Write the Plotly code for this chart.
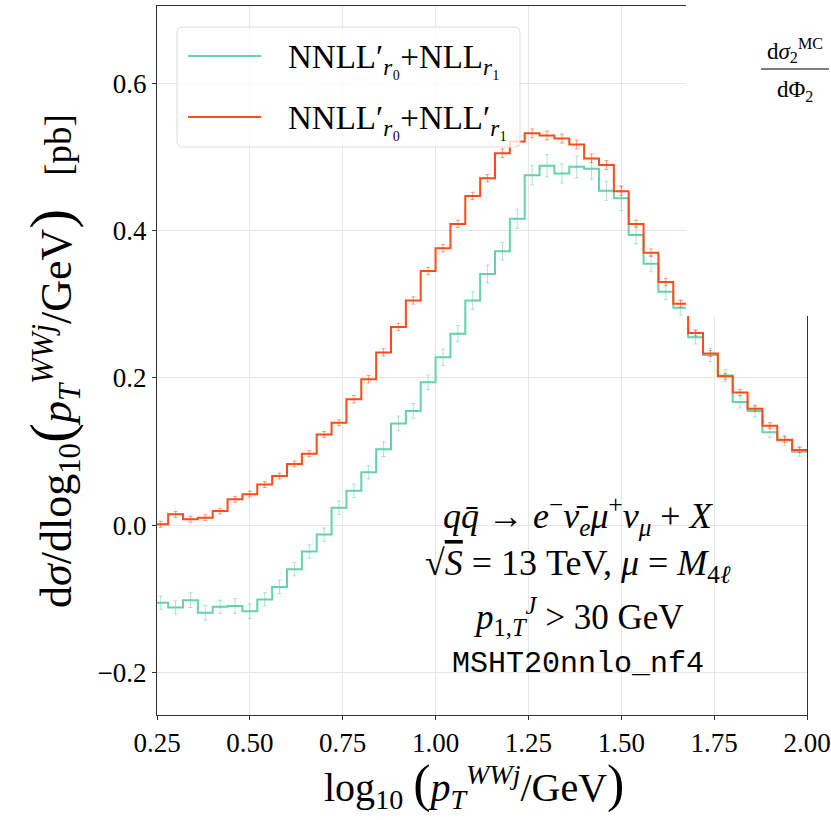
import numpy as np
import plotly.graph_objects as go

# log10(pT) bins, width 0.04, 0.24 -> 2.00
bin_edges = np.round(np.arange(0.24, 2.0001, 0.04), 2)
bin_centres = np.round((bin_edges[:-1] + bin_edges[1:]) / 2, 2)

# NNLL'_r0 + NLL_r1 (green)
nll_r1 = [-0.1055, -0.112, -0.102, -0.119, -0.111, -0.110, -0.117, -0.101, -0.084, -0.060,
          -0.036, -0.013, 0.0235, 0.0466, 0.0716, 0.103, 0.138, 0.155, 0.194, 0.228,
          0.260, 0.305, 0.341, 0.372, 0.416, 0.475, 0.488, 0.4775, 0.4865, 0.484,
          0.454, 0.444, 0.394, 0.355, 0.317, 0.295, 0.255, 0.231, 0.203, 0.167,
          0.155, 0.126, 0.115, 0.0995]
nll_r1_err = [0.009, 0.009, 0.010, 0.010, 0.009, 0.010, 0.010, 0.009, 0.009, 0.009,
              0.009, 0.009, 0.009, 0.009, 0.009, 0.010, 0.010, 0.010, 0.010, 0.011,
              0.011, 0.012, 0.012, 0.012, 0.013, 0.013, 0.015, 0.013, 0.015, 0.014,
              0.013, 0.017, 0.012, 0.011, 0.011, 0.010, 0.009, 0.009, 0.008, 0.008,
              0.008, 0.007, 0.007, 0.006]

# NNLL'_r0 + NLL'_r1 (orange)
nllp_r1 = [0.001, 0.0145, 0.008, 0.010, 0.019, 0.035, 0.042, 0.055, 0.0665, 0.083,
           0.097, 0.123, 0.139, 0.171, 0.198, 0.2345, 0.269, 0.305, 0.345, 0.376,
           0.409, 0.447, 0.471, 0.505, 0.521, 0.532, 0.529, 0.525, 0.517, 0.498,
           0.489, 0.4535, 0.409, 0.370, 0.330, 0.3005, 0.261, 0.233, 0.202, 0.180,
           0.158, 0.135, 0.116, 0.102]
nllp_r1_err = [0.004, 0.004, 0.004, 0.004, 0.004, 0.004, 0.004, 0.004, 0.004, 0.004,
               0.004, 0.004, 0.004, 0.005, 0.005, 0.005, 0.005, 0.005, 0.005, 0.005,
               0.005, 0.005, 0.005, 0.006, 0.006, 0.006, 0.006, 0.006, 0.006, 0.006,
               0.006, 0.006, 0.005, 0.005, 0.005, 0.005, 0.004, 0.004, 0.004, 0.004,
               0.004, 0.004, 0.004, 0.004]

series = [
    ("NNLL′<sub><i>r</i>₀</sub>+NLL<sub><i>r</i>₁</sub>", nll_r1, nll_r1_err,
     "#66d2aa", "rgba(102,210,170,0.55)"),
    ("NNLL′<sub><i>r</i>₀</sub>+NLL′<sub><i>r</i>₁</sub>", nllp_r1, nllp_r1_err,
     "#ff4a1a", "rgba(255,74,26,0.55)"),
]

SERIF = "Liberation Serif"
W, H = 831, 820
L, R, T, B = 157, 807, 6, 715


def px_x(p):
    return (p - L) / (R - L)


def px_y(p):
    return (B - p) / (B - T)


fig = go.Figure()

for name, vals, errs, col, col_err in series:
    fig.add_trace(go.Scatter(
        x=list(bin_edges), y=list(vals) + [vals[-1]],
        mode="lines", line=dict(color=col, width=2, shape="hv"),
        name=name, showlegend=False, hoverinfo="skip"))
    fig.add_trace(go.Scatter(
        x=list(bin_centres), y=vals, mode="markers",
        marker=dict(symbol="line-ew", size=4, line=dict(color=col_err, width=1)),
        error_y=dict(type="data", array=errs, color=col_err, thickness=1, width=2),
        showlegend=False, hoverinfo="skip"))

shapes = []

# white patch hiding the top-right corner of the frame
shapes.append(dict(type="rect", xref="paper", yref="paper",
                   x0=px_x(686), x1=px_x(840), y0=px_y(316), y1=px_y(-5),
                   fillcolor="white", line=dict(width=0), layer="above"))

# legend box (rounded, semi transparent)
x0, x1, y0, y1, r = 177, 520, 27, 147, 6
rx = lambda p: f"{px_x(p):.5f}"
ry = lambda p: f"{px_y(p):.5f}"
path = (f"M {rx(x0 + r)},{ry(y0)} L {rx(x1 - r)},{ry(y0)} Q {rx(x1)},{ry(y0)} {rx(x1)},{ry(y0 + r)} "
        f"L {rx(x1)},{ry(y1 - r)} Q {rx(x1)},{ry(y1)} {rx(x1 - r)},{ry(y1)} "
        f"L {rx(x0 + r)},{ry(y1)} Q {rx(x0)},{ry(y1)} {rx(x0)},{ry(y1 - r)} "
        f"L {rx(x0)},{ry(y0 + r)} Q {rx(x0)},{ry(y0)} {rx(x0 + r)},{ry(y0)} Z")
shapes.append(dict(type="path", xref="paper", yref="paper", path=path,
                   fillcolor="rgba(255,255,255,0.8)", line=dict(color="#dcdcdc", width=1),
                   layer="above"))

annotations = []
for i, (name, vals, errs, col, col_err) in enumerate(series):
    yy = 56 + 61 * i
    shapes.append(dict(type="line", xref="paper", yref="paper",
                       x0=px_x(188), x1=px_x(261), y0=px_y(yy), y1=px_y(yy),
                       line=dict(color=col, width=2), layer="above"))
    annotations.append(dict(xref="paper", yref="paper", x=px_x(286), y=px_y(yy + 4),
                            text=name, showarrow=False, xanchor="left", yanchor="middle",
                            font=dict(family=SERIF, size=33, color="black")))

# fraction dsigma_2^MC / dPhi_2 in the corner
shapes.append(dict(type="line", xref="paper", yref="paper",
                   x0=px_x(761), x1=px_x(829), y0=px_y(69), y1=px_y(69),
                   line=dict(color="black", width=1), layer="above"))
annotations.append(dict(xref="paper", yref="paper", x=px_x(795), y=px_y(50),
                        text="d<i>σ</i><sub>2</sub><sup>MC</sup>", showarrow=False,
                        xanchor="center", yanchor="middle",
                        font=dict(family=SERIF, size=23, color="black")))
annotations.append(dict(xref="paper", yref="paper", x=px_x(795), y=px_y(91),
                        text="dΦ<sub>2</sub>", showarrow=False,
                        xanchor="center", yanchor="middle",
                        font=dict(family=SERIF, size=23, color="black")))

# process info
sp = "\u2005"
info = [
    (f"<i>q</i><i>q̄</i>{sp}→{sp}<i>e</i><sup>−</sup><i>ν̄</i><sub><i>e</i></sub><i>μ</i><sup>+</sup><i>ν</i><sub><i>μ</i></sub>{sp}+{sp}<i>X</i>", 516, SERIF, 36),
    (f"√<span style='text-decoration:overline'><i>S</i></span>{sp}={sp}13{sp}TeV,{sp}<i>μ</i>{sp}={sp}<i>M</i><sub>4<i>ℓ</i></sub>", 565, SERIF, 36),
    ("<i>p</i><sub>1,<i>T</i></sub><sup><i>J</i></sup> > 30 GeV", 616, SERIF, 35),
    ("MSHT20nnlo_nf4", 664, "Liberation Mono", 30),
]
for txt, yy, fam, sz in info:
    annotations.append(dict(xref="paper", yref="paper", x=px_x(578), y=px_y(yy),
                            text=txt, showarrow=False, xanchor="center", yanchor="middle",
                            font=dict(family=fam, size=sz, color="black")))

# axis titles
annotations.append(dict(xref="paper", yref="paper", x=px_x(474), y=px_y(785),
                        text="log<sub>10</sub> <span style='font-size:52px'>(</span><i>p</i><sub><i>T</i></sub><sup><i>WWj</i></sup>/GeV<span style='font-size:52px'>)</span>",
                        showarrow=False, xanchor="center", yanchor="middle",
                        font=dict(family=SERIF, size=40, color="black")))
annotations.append(dict(xref="paper", yref="paper", x=px_x(52), y=px_y(361),
                        text="d<i>σ</i>/dlog<sub>10</sub><span style='font-size:60px'>(</span><i>p</i><sub><i>T</i></sub><sup><i>WWj</i></sup>/GeV<span style='font-size:60px'>)</span>   <span style='font-size:37px'>[pb]</span>",
                        textangle=-90, showarrow=False, xanchor="center", yanchor="middle",
                        font=dict(family=SERIF, size=44, color="black")))

fig.update_layout(
    width=W, height=H,
    margin=dict(l=L, r=W - R, t=T, b=H - B, autoexpand=False),
    paper_bgcolor="white", plot_bgcolor="white",
    font=dict(family=SERIF, size=27, color="black"),
    showlegend=False,
    shapes=shapes, annotations=annotations,
)
fig.update_xaxes(range=[0.25, 2.0], tickvals=[0.25, 0.5, 0.75, 1.0, 1.25, 1.5, 1.75, 2.0],
                 tickformat=".2f", ticks="outside", ticklen=4, tickcolor="#333",
                 showgrid=True, gridcolor="#e6e6e6", gridwidth=1, automargin=False,
                 showline=True, linecolor="#333", linewidth=1, mirror=True, zeroline=False)
fig.update_yaxes(range=[-0.258, 0.705], tickvals=[-0.2, 0.0, 0.2, 0.4, 0.6],
                 tickformat=".1f", ticks="outside", ticklen=4, tickcolor="#333",
                 showgrid=True, gridcolor="#e6e6e6", gridwidth=1, automargin=False,
                 showline=True, linecolor="#333", linewidth=1, mirror=True, zeroline=False)

fig.write_html("out.html", config={"displayModeBar": False},
               post_script="document.body.style.margin='0';")
